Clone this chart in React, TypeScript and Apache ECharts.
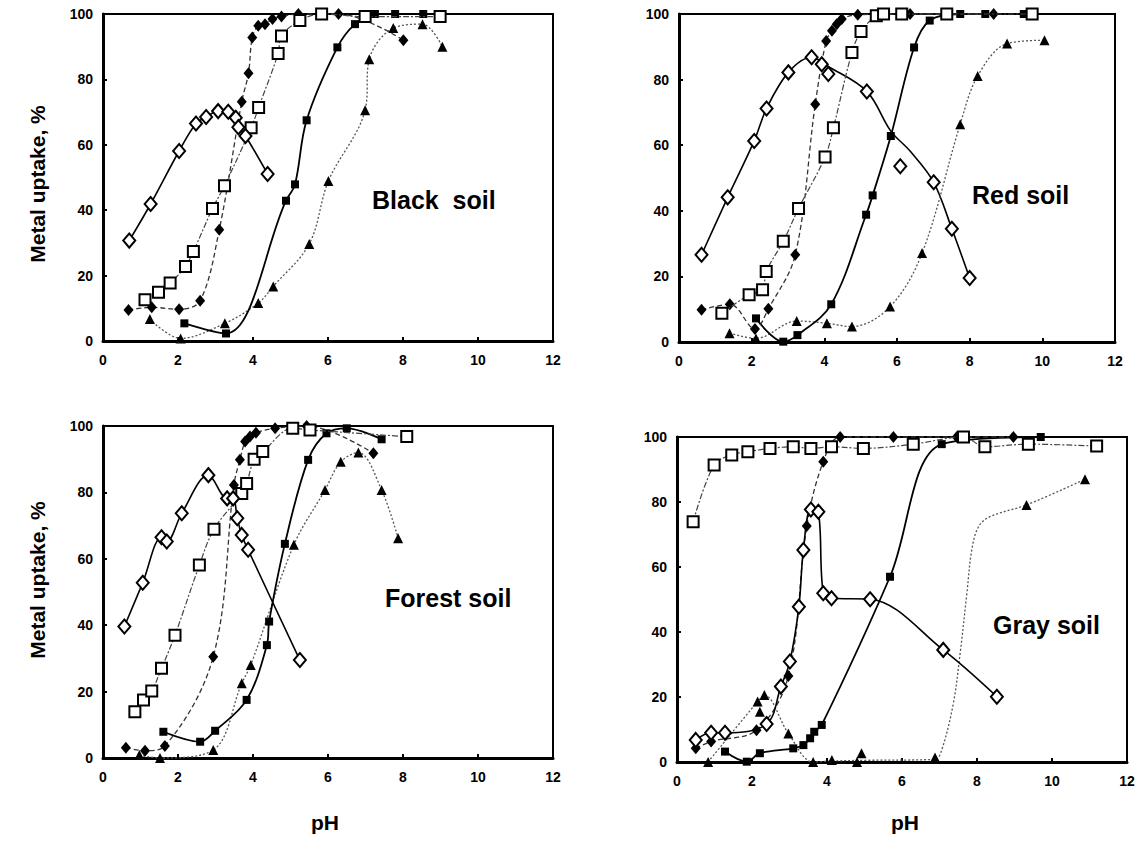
import React, { useEffect, useRef } from "react";
import * as echarts from "echarts";

// Axis settings (tick labels generated from these)
const xMin = 0, xMax = 12, xStep = 2;
const yMin = 0, yMax = 100, yStep = 20;

const panelTitles = ["Black  soil", "Red soil", "Forest soil", "Gray soil"];
const yTitle = "Metal uptake, %";
const xTitle = "pH";

// Black soil
const blackOpenDiamond = [[0.70,30.7],[1.27,41.9],[2.03,58.1],[2.48,66.5],[2.75,68.5],[3.07,70.3],[3.34,70.1],[3.54,68.3],[3.61,65.4],[3.80,62.7],[4.39,51.1]];
const blackFilledDiamond = [[0.68,9.5],[1.30,10.3],[2.03,9.7],[2.59,12.3],[3.10,34.0],[3.70,73.2],[3.88,81.9],[3.98,92.8],[4.14,96.4],[4.32,96.9],[4.52,98.5],[4.76,99.2],[5.21,100],[6.28,100],[8.01,92.0]];
const blackOpenSquare = [[1.12,12.6],[1.48,14.9],[1.79,17.7],[2.20,22.8],[2.41,27.4],[2.92,40.5],[3.24,47.5],[3.95,65.2],[4.15,71.4],[4.67,87.9],[4.76,93.3],[5.25,98.0],[5.83,100],[6.99,99.2],[8.99,99.2]];
const blackFilledSquare = [[2.17,5.4],[3.28,2.3],[4.88,42.9],[5.12,47.9],[5.43,67.5],[6.25,89.8],[6.72,96.9],[7.25,100],[7.79,100],[8.54,100]];
const blackTriangle = [[1.25,6.7],[2.07,0.8],[3.25,5.4],[4.14,11.6],[4.54,16.7],[5.50,29.7],[6.01,48.9],[6.99,70.6],[7.10,86.2],[7.74,95.7],[8.52,96.9],[9.05,90.0]];

// Red soil
const redOpenDiamond = [[0.62,26.6],[1.34,44.1],[2.07,61.3],[2.41,71.2],[3.01,82.2],[3.65,86.8],[3.93,84.7],[4.11,81.7],[5.17,76.4],[6.09,53.6],[7.01,48.7],[7.51,34.5],[8.00,19.5]];
// fitted curve through the red-soil open diamonds
const redOpenDiamondCurve = [[0.62,26.6],[1.34,44.1],[2.07,61.3],[2.41,71.2],[3.01,82.2],[3.65,86.8],[4.11,84.0],[5.17,76.4],[5.83,64.3],[6.36,58.2],[7.01,48.7],[7.51,34.5],[8.00,19.5]];
const redFilledDiamond = [[0.62,9.8],[1.40,11.5],[2.09,4.0],[2.46,10.1],[3.20,26.6],[3.75,72.5],[4.05,91.8],[4.21,94.9],[4.34,96.9],[4.48,98.5],[4.92,99.8],[6.36,100],[8.66,100]];
const redOpenSquare = [[1.18,8.8],[1.93,14.4],[2.30,15.9],[2.40,21.5],[2.87,30.7],[3.29,40.7],[4.02,56.4],[4.25,65.3],[4.76,88.3],[5.01,94.7],[5.43,99.5],[5.63,100],[6.13,100],[7.37,100],[9.72,100]];
const redFilledSquare = [[2.12,7.2],[2.87,0.1],[3.26,2.1],[4.19,11.5],[5.15,38.8],[5.33,44.7],[5.83,62.8],[6.47,89.8],[6.90,98.0],[7.74,100],[8.43,100],[9.49,100]];
const redTriangle = [[1.39,2.7],[2.12,1.1],[3.24,6.4],[4.07,5.7],[4.76,4.7],[5.81,10.8],[6.69,27.1],[7.74,66.4],[8.22,81.1],[9.03,91.0],[10.06,92.0]];

// Forest soil
const forestOpenDiamond = [[0.57,39.6],[1.06,52.8],[1.56,66.5],[1.70,65.2],[2.10,73.7],[2.81,85.2],[3.31,78.2],[3.47,78.2],[3.58,72.2],[3.70,67.2],[3.87,62.7],[5.25,29.5]];
const forestFilledDiamond = [[0.61,3.1],[1.12,2.2],[1.65,3.6],[2.94,30.5],[3.49,82.2],[3.65,89.8],[3.79,95.3],[3.92,96.8],[4.08,98.0],[4.59,99.3],[5.43,100],[7.21,91.8]];
const forestOpenSquare = [[0.85,13.9],[1.08,17.5],[1.30,20.2],[1.56,27.0],[1.92,37.0],[2.57,58.1],[2.96,68.9],[3.70,79.7],[3.83,82.7],[4.03,90.0],[4.26,92.3],[5.06,99.3],[5.52,98.8],[8.10,96.8]];
const forestFilledSquare = [[1.61,7.9],[2.59,4.9],[2.99,8.2],[3.83,17.5],[4.37,34.0],[4.43,41.1],[4.85,64.5],[5.47,89.8],[5.96,97.8],[6.50,99.3],[7.43,96.0]];
const forestTriangle = [[0.97,0.9],[1.52,0],[2.94,2.4],[3.70,22.5],[3.94,28.0],[5.09,64.2],[5.92,80.7],[6.34,89.2],[6.81,92.0],[7.43,80.7],[7.87,66.2]];

// Gray soil
const grayOpenDiamond = [[0.50,6.8],[0.91,9.0],[1.28,9.0],[2.39,11.7],[2.77,23.2],[3.01,30.9],[3.25,47.8],[3.37,65.2],[3.57,77.7],[3.77,77.0],[3.90,51.9],[4.12,50.4],[5.15,50.1],[7.10,34.5],[8.53,20.1]];
const grayFilledDiamond = [[0.50,4.2],[0.91,6.3],[2.12,9.8],[2.97,26.5],[3.46,72.6],[3.90,92.4],[4.35,100],[5.77,100],[7.46,100],[8.97,100]];
const grayOpenSquare = [[0.43,73.9],[0.99,91.4],[1.46,94.5],[1.89,95.5],[2.48,96.5],[3.10,97.0],[3.57,96.5],[4.12,97.0],[4.97,96.5],[6.30,97.8],[7.64,100],[8.21,97.0],[9.37,97.8],[11.19,97.2]];
const grayFilledSquare = [[1.28,3.2],[1.86,0.1],[2.21,2.7],[3.10,4.2],[3.37,5.2],[3.55,7.3],[3.66,9.3],[3.86,11.4],[5.68,57.0],[7.06,97.8],[9.70,100]];
const grayTriangle = [[0.83,0],[2.15,18.6],[2.21,15.5],[2.33,20.6],[2.97,8.8],[3.63,0],[4.13,0.6],[4.80,0],[4.92,2.7],[6.88,1.4],[9.32,79.1],[10.88,87.0]];
// fitted curve through the gray-soil triangles
const grayTriangleCurve = [[0.83,0],[2.15,18.6],[2.33,20.6],[2.97,8.8],[3.63,0],[4.13,0.3],[4.92,0.5],[6.88,0.8],[7.06,3.7],[7.37,18.1],[7.55,33.4],[7.73,51.9],[7.86,65.2],[8.04,72.4],[8.35,75.5],[9.32,79.1],[10.88,87.0]];

const FONT = "'Liberation Sans', Arial, sans-serif";

const grids = [
  { left: 103, top: 14, width: 450, height: 327 },
  { left: 679, top: 14, width: 436, height: 328 },
  { left: 103, top: 426, width: 450, height: 332 },
  { left: 677, top: 437, width: 450, height: 325 },
];

type Kind = "od" | "fd" | "os" | "fs" | "tr";

const styles: Record<Kind, any> = {
  od: { symbol: "diamond", symbolSize: [12, 14], fill: "#fff", line: { color: "#000", width: 1.6, type: "solid" } },
  fd: { symbol: "diamond", symbolSize: [10, 12], fill: "#000", line: { color: "#333", width: 1.3, type: [5, 3] } },
  os: { symbol: "rect", symbolSize: 11, fill: "#fff", line: { color: "#444", width: 1.2, type: [6, 2, 2, 2] } },
  fs: { symbol: "rect", symbolSize: 8, fill: "#000", line: { color: "#000", width: 1.8, type: "solid" } },
  tr: { symbol: "triangle", symbolSize: 10, fill: "#000", line: { color: "#555", width: 1.3, type: [2, 2] } },
};

function mk(gi: number, data: number[][], kind: Kind, noLine = false) {
  const s = styles[kind];
  return {
    type: "line",
    xAxisIndex: gi,
    yAxisIndex: gi,
    data,
    smooth: 0.35,
    clip: false,
    symbol: s.symbol,
    showSymbol: true,
    symbolSize: s.symbolSize,
    itemStyle: { color: s.fill, borderColor: "#000", borderWidth: s.fill === "#fff" ? 2 : 0 },
    lineStyle: noLine ? { width: 0, opacity: 0 } : s.line,
    z: kind === "od" || kind === "os" ? 4 : 3,
  };
}

function curve(gi: number, data: number[][], kind: Kind) {
  return {
    type: "line",
    xAxisIndex: gi,
    yAxisIndex: gi,
    data,
    smooth: 0.35,
    clip: false,
    showSymbol: false,
    symbol: "none",
    lineStyle: styles[kind].line,
    z: 2,
  };
}

export default function App() {
  const ref = useRef<HTMLDivElement>(null);
  useEffect(() => {
    if (!ref.current) return;
    const chart = echarts.init(ref.current, undefined, { renderer: "svg" });
    const axisLabel = { fontFamily: FONT, fontWeight: "bold", fontSize: 14, color: "#000" };
    const xAxes = grids.map((_, i) => ({
      type: "value", gridIndex: i, min: xMin, max: xMax, interval: xStep,
      axisLine: { show: true, onZero: false, lineStyle: { color: "#000", width: 3 } },
      axisTick: { show: true, inside: true, length: 4, lineStyle: { color: "#000", width: 2 } },
      axisLabel: { ...axisLabel, margin: 12 },
      splitLine: { show: false },
    }));
    const yAxes = grids.map((_, i) => ({
      type: "value", gridIndex: i, min: yMin, max: yMax, interval: yStep,
      axisLine: { show: true, onZero: false, lineStyle: { color: "#000", width: 3 } },
      axisTick: { show: true, inside: true, length: 4, lineStyle: { color: "#000", width: 2 } },
      axisLabel: { ...axisLabel, margin: 10 },
      splitLine: { show: false },
    }));
    const series: any[] = [
      mk(0, blackTriangle, "tr"), mk(0, blackFilledSquare, "fs"), mk(0, blackOpenSquare, "os"), mk(0, blackFilledDiamond, "fd"), mk(0, blackOpenDiamond, "od"),
      mk(1, redTriangle, "tr"), mk(1, redFilledSquare, "fs"), mk(1, redOpenSquare, "os"), mk(1, redFilledDiamond, "fd"),
      curve(1, redOpenDiamondCurve, "od"), mk(1, redOpenDiamond, "od", true),
      mk(2, forestTriangle, "tr"), mk(2, forestFilledSquare, "fs"), mk(2, forestOpenSquare, "os"), mk(2, forestFilledDiamond, "fd"), mk(2, forestOpenDiamond, "od"),
      curve(3, grayTriangleCurve, "tr"), mk(3, grayTriangle, "tr", true), mk(3, grayFilledSquare, "fs"), mk(3, grayOpenSquare, "os"), mk(3, grayFilledDiamond, "fd"), mk(3, grayOpenDiamond, "od"),
    ];
    const titleStyle = { fontFamily: FONT, fontWeight: "bold", fontSize: 21, fill: "#000" };
    const panelStyle = { fontFamily: FONT, fontWeight: "bold", fontSize: 25, fill: "#000" };
    chart.setOption({
      animation: false,
      backgroundColor: "#fff",
      grid: grids.map((g) => ({ ...g, show: true, borderColor: "#000", borderWidth: 2, backgroundColor: "transparent" })),
      xAxis: xAxes,
      yAxis: yAxes,
      series,
      graphic: [
        { type: "text", x: 37, y: 184, rotation: Math.PI / 2, style: { ...titleStyle, text: yTitle, textAlign: "center", textVerticalAlign: "middle" } },
        { type: "text", x: 37, y: 580, rotation: Math.PI / 2, style: { ...titleStyle, text: yTitle, textAlign: "center", textVerticalAlign: "middle" } },
        { type: "text", x: 325, y: 822, style: { ...titleStyle, text: xTitle, textAlign: "center", textVerticalAlign: "middle" } },
        { type: "text", x: 905, y: 822, style: { ...titleStyle, text: xTitle, textAlign: "center", textVerticalAlign: "middle" } },
        { type: "text", x: 372, y: 200, style: { ...panelStyle, text: panelTitles[0], textVerticalAlign: "middle" } },
        { type: "text", x: 972, y: 195, style: { ...panelStyle, text: panelTitles[1], textVerticalAlign: "middle" } },
        { type: "text", x: 385, y: 598, style: { ...panelStyle, text: panelTitles[2], textVerticalAlign: "middle" } },
        { type: "text", x: 993, y: 625, style: { ...panelStyle, text: panelTitles[3], textVerticalAlign: "middle" } },
      ],
    });
    return () => chart.dispose();
  }, []);
  return <div ref={ref} style={{ position: "fixed", left: 0, top: 0, width: 1143, height: 857, background: "#fff" }} />;
}
